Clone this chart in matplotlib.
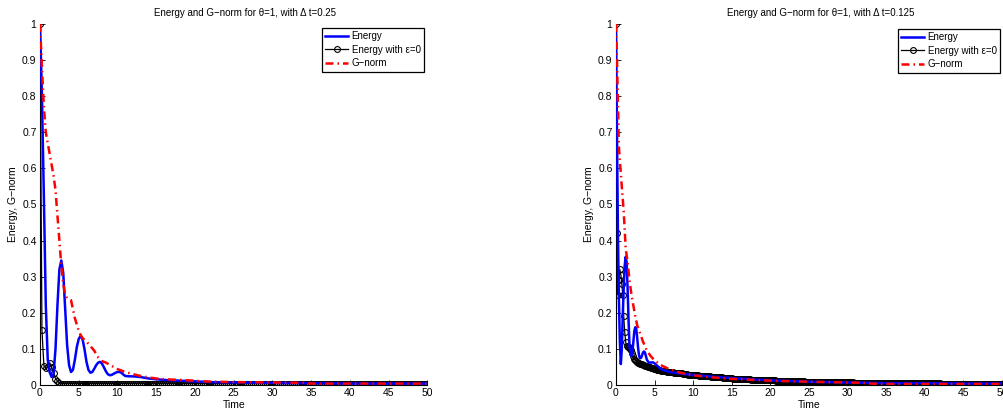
import numpy as np
import matplotlib
matplotlib.use("Agg")
import matplotlib.pyplot as plt

plt.rcParams['font.family'] = ['Liberation Sans', 'DejaVu Sans']

# ---------------- Left panel (dt = 0.25) ----------------
title_left = "Energy and G\u2212norm for \u03b8=1, with \u0394 t=0.25"
title_right = "Energy and G\u2212norm for \u03b8=1, with \u0394 t=0.125"
legend_labels = ["Energy", "Energy with \u03b5=0", "G\u2212norm"]
xticks = [0, 5, 10, 15, 20, 25, 30, 35, 40, 45, 50]
yticks = [0, 0.1, 0.2, 0.3, 0.4, 0.5, 0.6, 0.7, 0.8, 0.9, 1]
ytick_labels = ["0", "0.1", "0.2", "0.3", "0.4", "0.5", "0.6", "0.7", "0.8", "0.9", "1"]

t_energy_L = [0, 0.25, 0.5, 0.75, 1.0, 1.25, 1.5, 1.75, 2.0, 2.25, 2.5, 2.75, 3.0, 3.25,
              3.5, 3.75, 4.0, 4.25, 4.5, 4.75, 5.0, 5.25, 5.5, 5.75, 6.0, 6.25, 6.5, 6.75,
              7.0, 7.25, 7.5, 7.75, 8.0, 8.25, 8.5, 8.75, 9.0, 9.25, 9.5, 9.75, 10.0, 10.25,
              10.5, 10.75, 11.0, 11.5, 12, 12.5, 13, 13.5, 14, 15, 16, 17, 18, 19, 20, 22,
              25, 30, 35, 40, 45, 50]
energy_L = [1.0, 0.80, 0.52, 0.22, 0.07, 0.035, 0.022, 0.03, 0.10, 0.22, 0.32, 0.345, 0.31, 0.21,
            0.11, 0.055, 0.036, 0.042, 0.07, 0.105, 0.128, 0.136, 0.126, 0.098, 0.064, 0.042, 0.034, 0.036,
            0.045, 0.055, 0.062, 0.064, 0.059, 0.049, 0.038, 0.030, 0.027, 0.028, 0.031, 0.034, 0.036, 0.036,
            0.034, 0.029, 0.025, 0.024, 0.024, 0.023, 0.022, 0.020, 0.018, 0.016, 0.014, 0.013, 0.012, 0.011, 0.010, 0.008,
            0.007, 0.006, 0.005, 0.004, 0.004, 0.004]

t_gnorm_L = [0, 0.25, 0.5, 0.75, 1.0, 1.5, 1.75, 2.0, 2.25, 2.5, 2.75, 3.0, 3.25, 3.5, 4.0, 4.25,
             4.5, 5.0, 5.25, 5.5, 6.0, 6.5, 7.0, 7.5, 8.0, 8.5, 9.0, 9.5, 10, 10.5, 11, 12, 13,
             14, 15, 16, 17, 18, 19, 20, 21, 25, 30, 34, 35, 40, 45, 50]
gnorm_L = [1.0, 0.88, 0.77, 0.70, 0.67, 0.61, 0.58, 0.54, 0.47, 0.40, 0.33, 0.28, 0.25, 0.24, 0.235, 0.21,
           0.185, 0.15, 0.138, 0.13, 0.12, 0.108, 0.095, 0.077, 0.066, 0.062, 0.056, 0.050, 0.044, 0.040, 0.036, 0.030, 0.025,
           0.021, 0.018, 0.016, 0.015, 0.014, 0.013, 0.012, 0.010, 0.008, 0.007, 0.006, 0.004, 0.004, 0.004, 0.004]

dt_L = 0.25
energy_eps0_L = [
    1.0, 0.152, 0.054, 0.046, 0.050, 0.062, 0.050, 0.034, 0.018, 0.011, 0.006, 0.004,
    0.004, 0.004, 0.004, 0.004, 0.004, 0.004, 0.004, 0.004, 0.004, 0.004, 0.004, 0.004,
    0.004, 0.004, 0.004, 0.004, 0.004, 0.004, 0.004, 0.004, 0.004, 0.004, 0.004, 0.004,
    0.004, 0.004, 0.004, 0.004, 0.004, 0.004, 0.004, 0.004, 0.004, 0.004, 0.004, 0.004,
    0.004, 0.004, 0.004, 0.004, 0.004, 0.004, 0.004, 0.004, 0.004, 0.004, 0.004, 0.004,
    0.004, 0.004, 0.004, 0.004, 0.004, 0.004, 0.004, 0.004, 0.004, 0.004, 0.004, 0.004,
    0.004, 0.004, 0.004, 0.004, 0.004, 0.004, 0.004, 0.004, 0.004, 0.004, 0.004, 0.004,
    0.004, 0.004, 0.004, 0.004, 0.004, 0.004, 0.004, 0.004, 0.004, 0.004, 0.004, 0.004,
    0.004, 0.004, 0.004, 0.004, 0.004, 0.004, 0.004, 0.004, 0.004, 0.004, 0.004, 0.004,
    0.004, 0.004, 0.004, 0.004, 0.004, 0.004, 0.004, 0.004, 0.004, 0.004, 0.004, 0.004,
    0.004, 0.004, 0.004, 0.004, 0.004, 0.004, 0.004, 0.004, 0.004, 0.004, 0.004, 0.004,
    0.004, 0.004, 0.004, 0.004, 0.004, 0.004, 0.004, 0.004, 0.004, 0.004, 0.004, 0.004,
    0.004, 0.004, 0.004, 0.004, 0.004, 0.004, 0.004, 0.004, 0.004, 0.004, 0.004, 0.004,
    0.004, 0.004, 0.004, 0.004, 0.004, 0.004, 0.004, 0.004, 0.004, 0.004, 0.004, 0.004,
    0.004, 0.004, 0.004, 0.004, 0.004, 0.004, 0.004, 0.004, 0.004, 0.004, 0.004, 0.004,
    0.004, 0.004, 0.004, 0.004, 0.004, 0.004, 0.004, 0.004, 0.004, 0.004, 0.004, 0.004,
    0.004, 0.004, 0.004, 0.004, 0.004, 0.004, 0.004, 0.004, 0.004,
]

# ---------------- Right panel (dt = 0.125) ----------------
t_energy_R = [0, 0.125, 0.25, 0.375, 0.5, 0.625, 0.75, 0.875, 1.0, 1.125, 1.25, 1.375, 1.5, 1.625,
              1.75, 1.875, 2.0, 2.125, 2.25, 2.375, 2.5, 2.625, 2.75, 2.875, 3.0, 3.125, 3.25,
              3.375, 3.5, 3.625, 3.75, 3.875, 4.0, 4.25, 4.5, 4.75, 5.0, 5.25, 5.5, 6.0, 7, 8, 9,
              10, 12, 15, 20, 25, 30, 35, 40, 45, 50]
energy_R = [1.0, 0.70, 0.42, 0.24, 0.12, 0.058, 0.10, 0.19, 0.27, 0.33, 0.355, 0.34, 0.27, 0.18,
            0.11, 0.085, 0.080, 0.09, 0.12, 0.15, 0.16, 0.155, 0.13, 0.10, 0.08, 0.074, 0.075,
            0.082, 0.09, 0.093, 0.09, 0.08, 0.07, 0.062, 0.062, 0.063, 0.06, 0.055, 0.05, 0.042, 0.036, 0.033, 0.030,
            0.028, 0.024, 0.019, 0.013, 0.009, 0.007, 0.005, 0.005, 0.004, 0.004]

t_gnorm_R = [0, 0.125, 0.25, 0.375, 0.5, 0.75, 1.0, 1.25, 1.5, 1.75, 2.0, 2.25, 2.5, 2.75, 3.0,
             3.5, 4.0, 4.5, 5.0, 5.5, 6, 7, 8, 9, 10, 12, 15, 20, 25, 30, 32, 33, 35, 40, 45, 50]
gnorm_R = [1.0, 0.90, 0.78, 0.66, 0.62, 0.55, 0.48, 0.38, 0.34, 0.29, 0.25, 0.22, 0.19, 0.165, 0.15,
           0.12, 0.095, 0.08, 0.068, 0.06, 0.053, 0.043, 0.036, 0.031, 0.027, 0.022, 0.017, 0.012, 0.009, 0.007, 0.006, 0.004, 0.003, 0.003, 0.003, 0.003]

dt_R = 0.125
energy_eps0_R = [
    1.0, 0.42, 0.25, 0.29, 0.32, 0.305, 0.28, 0.25, 0.19, 0.148, 0.12, 0.107, 0.105,
    0.104, 0.102, 0.099, 0.097, 0.088, 0.079, 0.073, 0.070, 0.067, 0.064, 0.062, 0.060,
    0.059, 0.058, 0.057, 0.056, 0.055, 0.054, 0.053, 0.052,
    0.051, 0.050, 0.049, 0.048, 0.047, 0.046, 0.045, 0.044,
    0.043, 0.043, 0.042, 0.042, 0.041, 0.041, 0.040, 0.040,
    0.039, 0.039, 0.038, 0.038, 0.037, 0.037, 0.036, 0.036,
    0.035, 0.035, 0.035, 0.034, 0.034, 0.034, 0.033, 0.033,
    0.033, 0.032, 0.032, 0.032, 0.031, 0.031, 0.031, 0.030,
    0.030, 0.030, 0.029, 0.029, 0.029, 0.029, 0.028, 0.028,
    0.028, 0.027, 0.027, 0.027, 0.027, 0.026, 0.026, 0.026,
    0.026, 0.025, 0.025, 0.025, 0.025, 0.024, 0.024, 0.024,
    0.024, 0.023, 0.023, 0.023, 0.023, 0.022, 0.022, 0.022,
    0.022, 0.021, 0.021, 0.021, 0.021, 0.021, 0.020, 0.020,
    0.020, 0.020, 0.020, 0.019, 0.019, 0.019, 0.019, 0.019,
    0.018, 0.018, 0.018, 0.018, 0.018, 0.018, 0.017, 0.017,
    0.017, 0.017, 0.017, 0.017, 0.016, 0.016, 0.016, 0.016,
    0.016, 0.016, 0.016, 0.015, 0.015, 0.015, 0.015, 0.015,
    0.015, 0.015, 0.015, 0.014, 0.014, 0.014, 0.014, 0.014,
    0.014, 0.014, 0.014, 0.014, 0.013, 0.013, 0.013, 0.013,
    0.013, 0.013, 0.013, 0.013, 0.013, 0.012, 0.012, 0.012,
    0.012, 0.012, 0.012, 0.012, 0.012, 0.012, 0.011, 0.011,
    0.011, 0.011, 0.011, 0.011, 0.011, 0.011, 0.011, 0.010,
    0.010, 0.010, 0.010, 0.010, 0.010, 0.010, 0.010, 0.010,
    0.010, 0.010, 0.010, 0.009, 0.009, 0.009, 0.009, 0.009,
    0.009, 0.009, 0.009, 0.009, 0.009, 0.009, 0.009, 0.009,
    0.009, 0.009, 0.009, 0.009, 0.008, 0.008, 0.008, 0.008,
    0.008, 0.008, 0.008, 0.008, 0.008, 0.008, 0.008, 0.008,
    0.008, 0.008, 0.008, 0.008, 0.007, 0.007, 0.007, 0.007,
    0.007, 0.007, 0.007, 0.007, 0.007, 0.007, 0.007, 0.007,
    0.007, 0.007, 0.007, 0.007, 0.007, 0.007, 0.006, 0.006,
    0.006, 0.006, 0.006, 0.006, 0.006, 0.006, 0.006, 0.006,
    0.006, 0.006, 0.006, 0.006, 0.006, 0.006, 0.006, 0.006,
    0.006, 0.006, 0.006, 0.006, 0.005, 0.005, 0.005, 0.005,
    0.005, 0.005, 0.005, 0.005, 0.005, 0.005, 0.005, 0.005,
    0.005, 0.005, 0.005, 0.005, 0.005, 0.005, 0.005, 0.005,
    0.005, 0.005, 0.005, 0.005, 0.005, 0.005, 0.005, 0.005,
    0.005, 0.005, 0.005, 0.005, 0.005, 0.005, 0.005, 0.005,
    0.005, 0.005, 0.005, 0.005, 0.005, 0.005, 0.005, 0.005,
    0.005, 0.005, 0.005, 0.005, 0.005, 0.005, 0.005, 0.005,
    0.005, 0.005, 0.005, 0.005, 0.005, 0.005, 0.005, 0.005,
    0.005, 0.005, 0.005, 0.005, 0.005, 0.005, 0.005, 0.005,
    0.004, 0.004, 0.004, 0.004, 0.004, 0.004, 0.004, 0.004,
    0.004, 0.004, 0.004, 0.004, 0.004, 0.004, 0.004, 0.004,
    0.004, 0.004, 0.004, 0.004, 0.004, 0.004, 0.004, 0.004,
    0.004, 0.004, 0.004, 0.004, 0.004, 0.004, 0.004, 0.004,
    0.004, 0.004, 0.004, 0.004, 0.004, 0.004, 0.004, 0.004,
    0.004, 0.004, 0.004, 0.004, 0.004, 0.004, 0.004, 0.004,
    0.004, 0.004, 0.004, 0.004, 0.004, 0.004, 0.004, 0.004,
    0.004, 0.004, 0.004, 0.004, 0.004, 0.004, 0.004, 0.004,
]

FS = 7.5

fig = plt.figure(figsize=(10.04, 4.16), dpi=100)
ax1 = fig.add_axes([40 / 1004, 31 / 416, 387.5 / 1004, 361 / 416])
ax2 = fig.add_axes([616 / 1004, 31 / 416, 386 / 1004, 361 / 416])

panels = [
    (ax1, title_left, t_energy_L, energy_L, dt_L, energy_eps0_L, t_gnorm_L, gnorm_L, (0.991, 0.989)),
    (ax2, title_right, t_energy_R, energy_R, dt_R, energy_eps0_R, t_gnorm_R, gnorm_R, (0.995, 0.986)),
]

for ax, title, te, e, dt, e0, tg, g, anchor in panels:
    t0 = np.arange(len(e0)) * dt
    l1, = ax.plot(te, e, color='#0000ff', lw=1.8, zorder=3)
    l2, = ax.plot(t0, e0, color='black', lw=0.9, marker='o', ms=4.2,
                  mfc='none', mec='black', mew=0.8, zorder=2)
    l3, = ax.plot(tg, g, color='#ff0000', lw=1.8, linestyle=(0, (3.2, 1.6, 0.6, 1.6)), zorder=4)
    ax.set_xlim(0, 50)
    ax.set_ylim(0, 1)
    ax.set_xticks(xticks)
    ax.set_yticks(yticks)
    ax.set_yticklabels(ytick_labels)
    ax.tick_params(direction='in', length=3.5, width=0.6, labelsize=FS, pad=2.5)
    for s in ['top', 'right']:
        ax.spines[s].set_visible(False)
    for s in ['left', 'bottom']:
        ax.spines[s].set_linewidth(0.8)
    ax.set_xlabel("Time", fontsize=FS, labelpad=1)
    ax.set_ylabel("Energy, G\u2212norm", fontsize=FS, labelpad=3)
    ax.set_title(title, fontsize=7, x=0.53, pad=6)
    leg = ax.legend([l1, l2, l3], legend_labels, loc='upper right', bbox_to_anchor=anchor,
                    borderaxespad=0, fontsize=7, fancybox=False, framealpha=1,
                    edgecolor='black', handlelength=2.3, labelspacing=0.35,
                    handletextpad=0.4, borderpad=0.35)
    leg.get_frame().set_linewidth(0.9)

fig.savefig("out.png", dpi=100)
